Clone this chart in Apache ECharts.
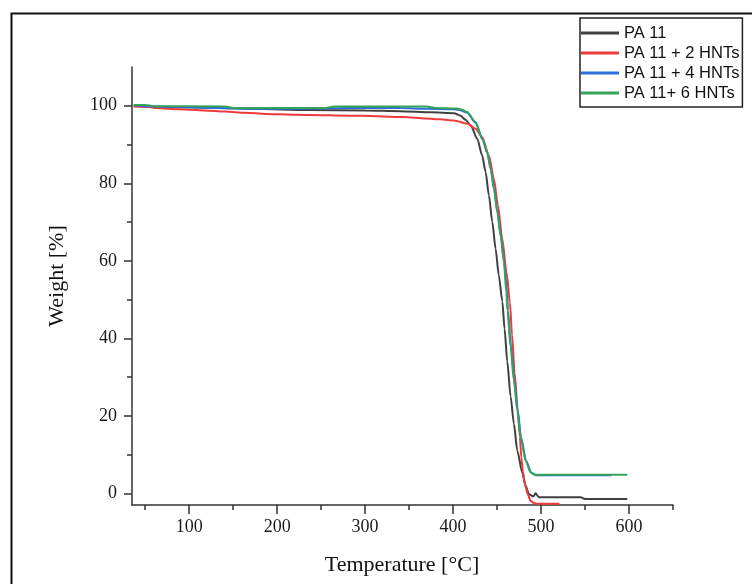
<!DOCTYPE html>
<html>
<head>
<meta charset="utf-8">
<script src="https://cdn.jsdelivr.net/npm/echarts@6/dist/echarts.min.js"></script>
<style>html,body{margin:0;padding:0;background:#fff;}#c{width:752px;height:584px;}</style>
</head>
<body>
<div id="c"></div>
<script>
const seriesNames = ['PA 11', 'PA 11 + 2 HNTs', 'PA 11 + 4 HNTs', 'PA 11+ 6 HNTs'];
const xMajorTicks = [100, 200, 300, 400, 500, 600];
const xMinorTicks = [50, 150, 250, 350, 450, 550, 650];
const yMajorTicks = [0, 20, 40, 60, 80, 100];
const yMinorTicks = [10, 30, 50, 70, 90];

const pa11 = [[37,99.9],[100,99.6],[174,99.2],[234,98.9],[300,98.8],[340,98.6],[375,98.3],[401,98.1],[408.5,97.4],[414,96.4],[420,94.9],[427.5,91.5],[433,87.2],[437,82.9],[440.7,76.9],[444.6,70.0],[448.3,63.1],[452,56.2],[456,49.5],[458.5,42.5],[461.6,34.0],[465.4,25.0],[469.1,18.0],[473,11.0],[478.6,5.4],[482.4,2.0],[486.2,-0.2],[491.5,-0.8],[493.7,0.0],[497.5,-1.0],[545,-1.0],[550,-1.45],[598,-1.45]];
const pa11_2 = [[37,99.9],[55,99.7],[62,99.4],[90,99.1],[117,98.8],[141,98.5],[164,98.2],[187,97.9],[221,97.7],[297,97.4],[344,97.1],[369,96.7],[386,96.5],[401,96.2],[416,95.4],[425.5,94.1],[433.2,91.9],[440.7,87.2],[446.4,81.2],[451,74.3],[455.9,65.7],[460.8,57.0],[464.6,49.3],[467,41],[470,31],[473.3,22],[476,14.5],[477.5,9.3],[479.5,5.5],[481.6,2.4],[485,-0.3],[488,-1.9],[492,-2.5],[495.7,-2.7],[521,-2.7]];
const pa11_4 = [[37,100.1],[60,99.8],[117,99.5],[174,99.2],[255,99.3],[300,99.5],[340,99.4],[370,99.2],[400,99.1],[407,98.9],[416,98.2],[425.5,95.6],[433.5,91.3],[439,87.8],[443,83.5],[446.8,78.4],[450.6,72.4],[454.4,66.3],[458.2,59.4],[461.5,51.5],[462.3,47.2],[466,37.7],[469.6,29.1],[473.5,21.4],[477.3,14.5],[483,8.4],[488.7,5.4],[494,4.7],[580,4.7]];
const pa11_6 = [[37,100.2],[50,100.2],[60,99.9],[141,99.8],[150,99.4],[255,99.4],[265,99.8],[370,99.8],[380,99.4],[404,99.3],[410,99.0],[416,98.4],[425.5,95.8],[433.2,91.5],[438.8,88.0],[442.6,83.8],[446.4,78.6],[450.2,72.6],[454,66.5],[457.8,59.6],[460.5,52.0],[461.8,47.2],[465.4,37.7],[469.1,29.1],[473,21.4],[476.8,14.5],[482.5,8.4],[488.2,5.4],[493,4.8],[598,4.8]];

const colors = ['#404040', '#ee3a3a', '#2a6fdc', '#36a35a'];
const datasets = [pa11, pa11_2, pa11_4, pa11_6];

const chart = echarts.init(document.getElementById('c'), null, {renderer: 'canvas'});
const axisColor = '#333';
const serif = '"Liberation Serif", "Times New Roman", serif';

const xBase = {
  type: 'value', min: 35, max: 650, gridIndex: 0, position: 'bottom',
  splitLine: {show: false}
};
const yBase = {
  type: 'value', min: -3, max: 110, gridIndex: 0, position: 'left',
  splitLine: {show: false}
};

chart.setOption({
  animation: false,
  backgroundColor: '#fff',
  grid: {left: 132, top: 67, right: 79, bottom: 79, containLabel: false},
  legend: {
    data: seriesNames,
    orient: 'vertical',
    left: 580, top: 18,
    backgroundColor: '#fff',
    borderColor: '#222', borderWidth: 1.5,
    padding: [5, 3, 4, 1],
    itemWidth: 38, itemHeight: 3, itemGap: 0,
    icon: 'rect',
    textStyle: {fontFamily: '"Liberation Sans", Arial, sans-serif', fontSize: 16.5, color: '#111', lineHeight: 20}
  },
  xAxis: [
    Object.assign({}, xBase, {
      axisLine: {show: true, onZero: false, lineStyle: {color: axisColor, width: 1.5}},
      axisTick: {show: true, customValues: xMajorTicks, length: 9, lineStyle: {color: axisColor, width: 1.5}},
      axisLabel: {show: true, customValues: xMajorTicks, margin: 13, fontFamily: serif, fontSize: 18, color: '#1a1a1a'}
    }),
    Object.assign({}, xBase, {
      axisLine: {show: false, onZero: false},
      axisTick: {show: true, customValues: xMinorTicks, length: 5, lineStyle: {color: axisColor, width: 1.5}},
      axisLabel: {show: false}
    })
  ],
  yAxis: [
    Object.assign({}, yBase, {
      axisLine: {show: true, onZero: false, lineStyle: {color: axisColor, width: 1.5}},
      axisTick: {show: true, customValues: yMajorTicks, length: 8, lineStyle: {color: axisColor, width: 1.5}},
      axisLabel: {show: true, customValues: yMajorTicks, margin: 15, fontFamily: serif, fontSize: 18, color: '#1a1a1a'}
    }),
    Object.assign({}, yBase, {
      axisLine: {show: false, onZero: false},
      axisTick: {show: true, customValues: yMinorTicks, length: 5, lineStyle: {color: axisColor, width: 1.5}},
      axisLabel: {show: false}
    })
  ],
  series: datasets.map((d, i) => ({
    name: seriesNames[i],
    type: 'line',
    xAxisIndex: 0, yAxisIndex: 0,
    data: d,
    showSymbol: false, symbol: 'none',
    smooth: 0.25, smoothMonotone: 'x',
    lineStyle: {color: colors[i], width: 2},
    itemStyle: {color: colors[i]},
    z: 2 + i
  })),
  graphic: [
    {type: 'rect', left: 9, top: 11, shape: {x: 0, y: 0, width: 760, height: 600}, style: {fill: 'none', stroke: '#111', lineWidth: 2}, silent: true, z: 0},
    {type: 'text', x: 57, y: 276, rotation: Math.PI / 2, style: {text: 'Weight [%]', fontFamily: serif, fontSize: 22, fill: '#111', align: 'center', verticalAlign: 'middle'}},
    {type: 'text', x: 402, y: 565, style: {text: 'Temperature [°C]', fontFamily: serif, fontSize: 22, fill: '#111', align: 'center', verticalAlign: 'middle'}}
  ]
});
</script>
</body>
</html>
